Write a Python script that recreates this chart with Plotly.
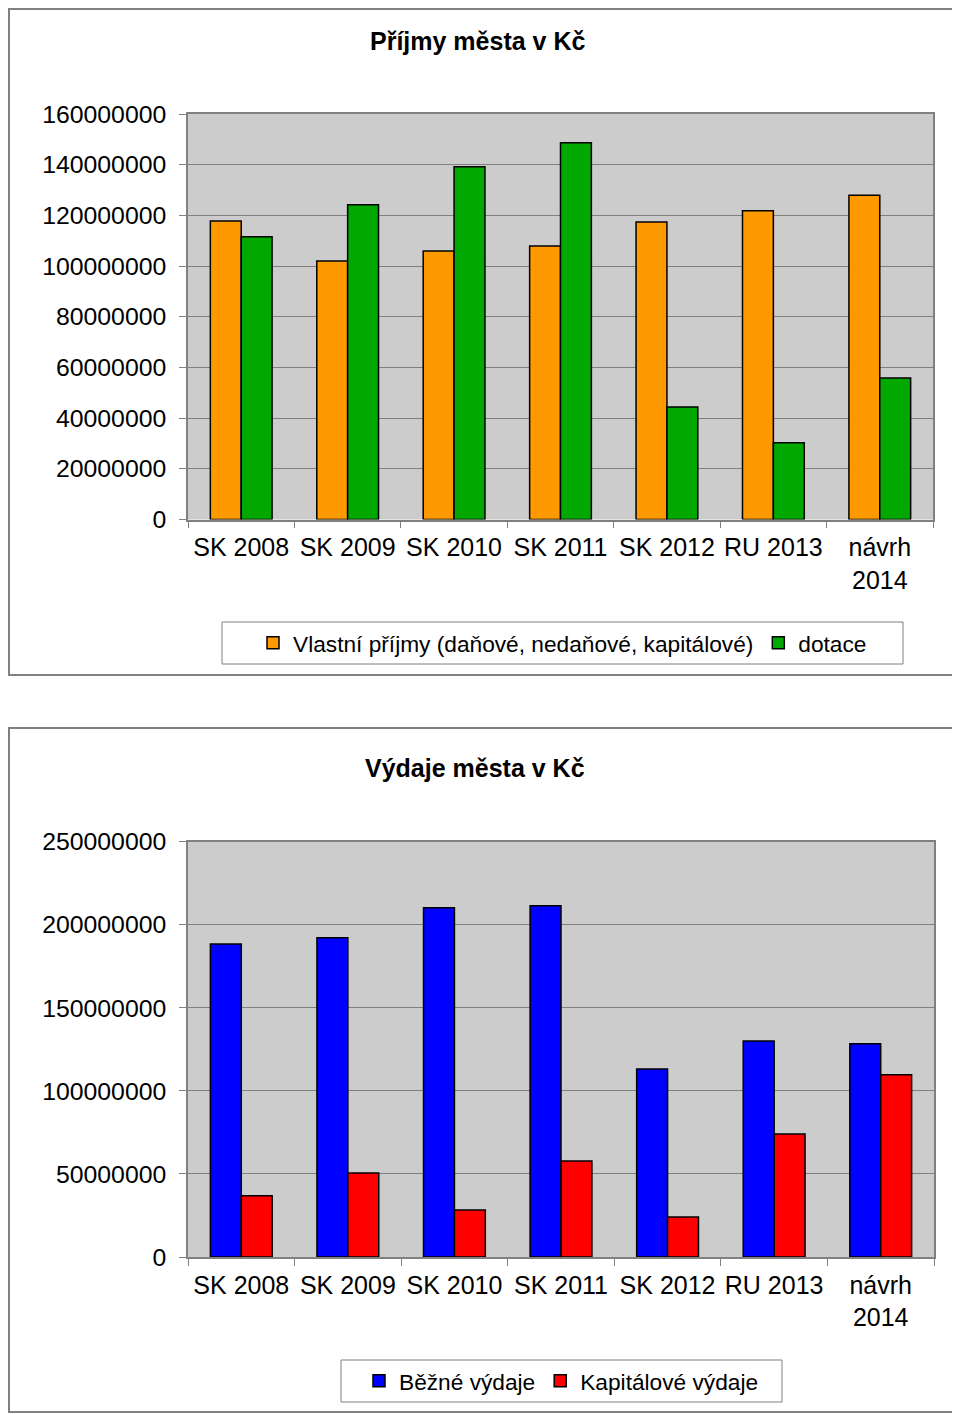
import plotly.graph_objects as go

categories = ["SK 2008", "SK 2009", "SK 2010", "SK 2011", "SK 2012", "RU 2013", "návrh<br>2014"]

# Příjmy (income)
vlastni_prijmy = [117800000, 102000000, 105900000, 107900000, 117400000, 121800000, 127900000]
dotace = [111600000, 124200000, 139200000, 148700000, 44400000, 30300000, 55800000]

# Výdaje (expenses)
bezne_vydaje = [188400000, 192200000, 210300000, 211500000, 113200000, 130000000, 128400000]
kapitalove_vydaje = [36900000, 50600000, 28300000, 57800000, 24100000, 74000000, 109700000]

income_ticks = [0, 20000000, 40000000, 60000000, 80000000, 100000000, 120000000, 140000000, 160000000]
expense_ticks = [0, 50000000, 100000000, 150000000, 200000000, 250000000]

W, H = 960, 1414
OFF = 8  # page body margin offset
FONT = "Liberation Sans, Arial, sans-serif"

def px_x(p):
    return (p - OFF) / W

def px_y(p):
    return 1 - (p - OFF) / H

fig = go.Figure()

line = dict(color="#000000", width=1.5)
fig.add_trace(go.Bar(x=categories, y=vlastni_prijmy, name="Vlastní příjmy (daňové, nedaňové, kapitálové)",
                     marker=dict(color="#FF9900", line=line), xaxis="x", yaxis="y", legend="legend"))
fig.add_trace(go.Bar(x=categories, y=dotace, name="dotace",
                     marker=dict(color="#00A800", line=line), xaxis="x", yaxis="y", legend="legend"))
fig.add_trace(go.Bar(x=categories, y=bezne_vydaje, name="Běžné výdaje",
                     marker=dict(color="#0000FF", line=line), xaxis="x2", yaxis="y2", legend="legend2"))
fig.add_trace(go.Bar(x=categories, y=kapitalove_vydaje, name="Kapitálové výdaje",
                     marker=dict(color="#FF0000", line=line), xaxis="x2", yaxis="y2", legend="legend2"))

axis_common_x = dict(
    type="category", showline=True, linecolor="#808080", linewidth=1.5, mirror=True,
    ticks="outside", tickson="boundaries", ticklen=7, tickcolor="#808080", tickwidth=1,
    tickfont=dict(family=FONT, size=25, color="#000000"), showgrid=False, ticklabelstandoff=5,
    tickangle=0,
)
axis_common_y = dict(
    showline=True, linecolor="#808080", linewidth=1.5, mirror=True,
    ticks="outside", ticklen=7, tickcolor="#808080", tickwidth=1,
    tickfont=dict(family=FONT, size=24.8, color="#000000"), ticklabelstandoff=8,
    showgrid=True, gridcolor="#808080", gridwidth=1, zeroline=False, tickformat="d",
)

fig.update_layout(
    width=W, height=H,
    margin=dict(l=0, r=0, t=0, b=0, autoexpand=False),
    paper_bgcolor="#FFFFFF", plot_bgcolor="#CCCCCC",
    barmode="group", bargap=0.42, bargroupgap=0.0,
    xaxis=dict(domain=[px_x(188), px_x(933)], anchor="y", **axis_common_x),
    yaxis=dict(domain=[px_y(519.5), px_y(114)], anchor="x", range=[0, 160000000],
               tickvals=income_ticks, ticktext=[str(v) for v in income_ticks], **axis_common_y),
    xaxis2=dict(domain=[px_x(188), px_x(934)], anchor="y2", **axis_common_x),
    yaxis2=dict(domain=[px_y(1257), px_y(841.7)], anchor="x2", range=[0, 250000000],
                tickvals=expense_ticks, ticktext=[str(v) for v in expense_ticks], **axis_common_y),
    legend=dict(orientation="h", x=px_x(562.5), y=px_y(643), xanchor="center", yanchor="middle",
                bgcolor="rgba(0,0,0,0)", borderwidth=0,
                font=dict(family=FONT, size=22.7, color="#000000"), itemwidth=30,
                traceorder="normal"),
    legend2=dict(orientation="h", x=px_x(561.5), y=px_y(1381), xanchor="center", yanchor="middle",
                 bgcolor="rgba(0,0,0,0)", borderwidth=0,
                 font=dict(family=FONT, size=22.7, color="#000000"), itemwidth=30,
                 traceorder="normal"),
    showlegend=True,
)

# chart frames and legend boxes (frames' left/top edges clamped to the visible page area)
shapes = [
    dict(type="rect", xref="paper", yref="paper", x0=1 / W, x1=px_x(957), y0=px_y(675), y1=1 - 1 / H,
         line=dict(color="#808080", width=2), layer="below"),
    dict(type="rect", xref="paper", yref="paper", x0=1 / W, x1=px_x(958), y0=px_y(1412), y1=px_y(728),
         line=dict(color="#808080", width=2), layer="below"),
    dict(type="rect", xref="paper", yref="paper", x0=px_x(222), x1=px_x(903), y0=px_y(664), y1=px_y(622),
         line=dict(color="#808080", width=1), layer="below"),
    dict(type="rect", xref="paper", yref="paper", x0=px_x(341), x1=px_x(782), y0=px_y(1402), y1=px_y(1360),
         line=dict(color="#808080", width=1), layer="below"),
]
fig.update_layout(shapes=shapes)

fig.add_annotation(text="<b>Příjmy města v Kč</b>", xref="paper", yref="paper", x=px_x(477), y=px_y(41),
                   showarrow=False, font=dict(family=FONT, size=25, color="#000000"),
                   xanchor="center", yanchor="middle")
fig.add_annotation(text="<b>Výdaje města v Kč</b>", xref="paper", yref="paper", x=px_x(475), y=px_y(768),
                   showarrow=False, font=dict(family=FONT, size=25, color="#000000"),
                   xanchor="center", yanchor="middle")

fig.write_html("out.html")
